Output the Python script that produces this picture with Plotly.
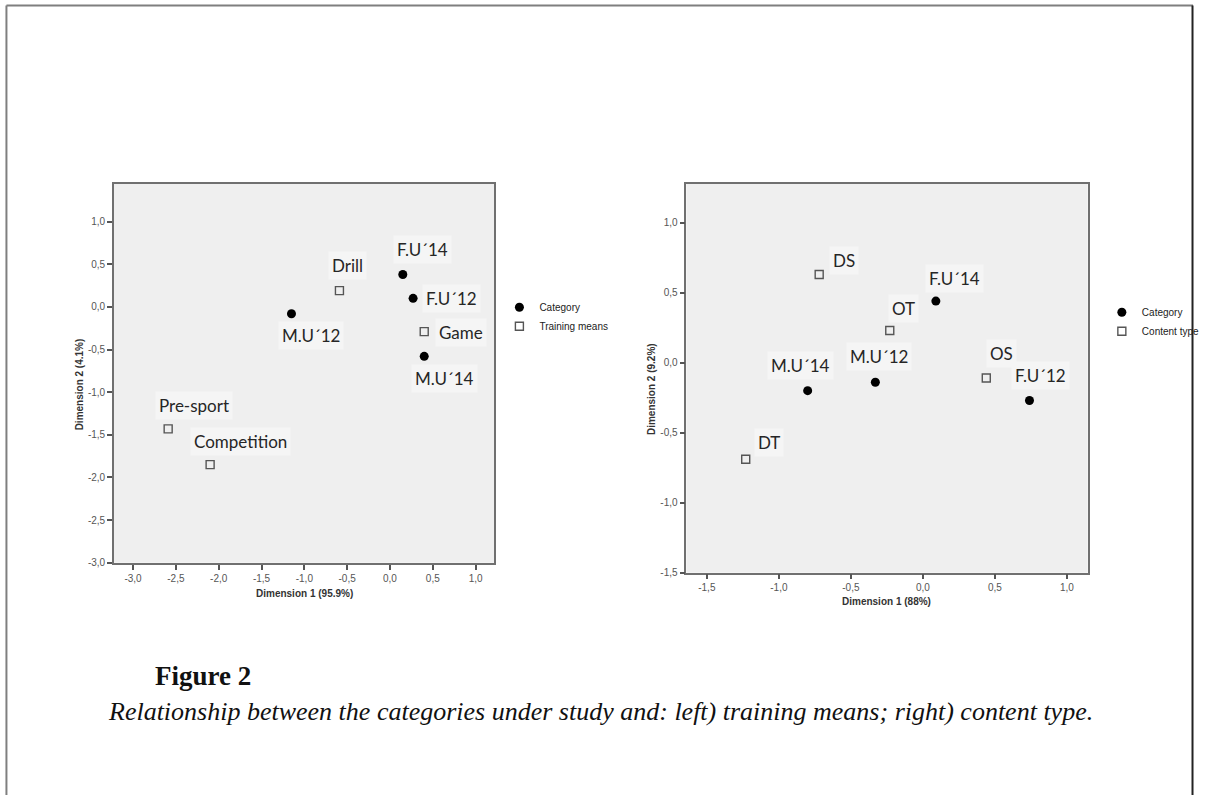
import plotly.graph_objects as go

W, H = 1205, 801

# ---------------- data ----------------
# Left panel: categories vs training means
left_cat_labels = ["M.U´12", "F.U´14", "F.U´12", "M.U´14"]
left_cat_x = [-1.15, 0.15, 0.27, 0.40]
left_cat_y = [-0.08, 0.38, 0.10, -0.58]

left_means_labels = ["Drill", "Game", "Pre-sport", "Competition"]
left_means_x = [-0.59, 0.40, -2.59, -2.10]
left_means_y = [0.19, -0.29, -1.43, -1.85]

# Right panel: categories vs content type
right_cat_labels = ["F.U´14", "M.U´14", "M.U´12", "F.U´12"]
right_cat_x = [0.09, -0.80, -0.33, 0.74]
right_cat_y = [0.44, -0.20, -0.14, -0.27]

right_cont_labels = ["DS", "OT", "OS", "DT"]
right_cont_x = [-0.72, -0.23, 0.44, -1.23]
right_cont_y = [0.63, 0.23, -0.11, -0.69]

left_x_ticks = [-3.0, -2.5, -2.0, -1.5, -1.0, -0.5, 0.0, 0.5, 1.0]
left_x_ticktext = ["-3,0", "-2,5", "-2,0", "-1,5", "-1,0", "-0,5", "0,0", "0,5", "1,0"]
left_y_ticks = [-3.0, -2.5, -2.0, -1.5, -1.0, -0.5, 0.0, 0.5, 1.0]
left_y_ticktext = ["-3,0", "-2,5", "-2,0", "-1,5", "-1,0", "-0,5", "0,0", "0,5", "1,0"]
right_x_ticks = [-1.5, -1.0, -0.5, 0.0, 0.5, 1.0]
right_x_ticktext = ["-1,5", "-1,0", "-0,5", "0,0", "0,5", "1,0"]
right_y_ticks = [-1.5, -1.0, -0.5, 0.0, 0.5, 1.0]
right_y_ticktext = ["-1,5", "-1,0", "-0,5", "0,0", "0,5", "1,0"]

# ---------------- label placement (pixels, dx right / dy down) ----------------
left_offsets = {
    "M.U´12": (20, 22, "center"), "F.U´14": (20, -25, "center"),
    "F.U´12": (9, 0, "left"), "M.U´14": (20, 22, "center"),
    "Drill": (8, -25, "center"), "Game": (11, 1, "left"),
    "Pre-sport": (26, -23, "center"), "Competition": (30, -23, "center"),
}
right_offsets = {
    "F.U´14": (19, -23, "center"), "M.U´14": (-7, -25, "center"),
    "M.U´12": (4, -26, "center"), "F.U´12": (11, -25, "center"),
    "DS": (25, -14, "center"), "OT": (14, -22, "center"),
    "OS": (15, -25, "center"), "DT": (23, -17, "center"),
}

def px(xp):
    return xp / W

def py(yp):
    return 1 - yp / H

PLOT_BG = "#efefef"
LABEL_FONT = dict(family="Lato", size=17, color="#262626")
TICK_FONT = dict(family="Liberation Sans", size=10, color="#555555")
TITLE_FONT = dict(family="Liberation Sans", size=10, color="#333333")

cat_marker = dict(symbol="circle", size=9, color="black")
sq_marker = dict(symbol="square-open", size=8, color="#555555", line=dict(width=1.4, color="#555555"))

fig = go.Figure()
fig.add_trace(go.Scatter(x=left_cat_x, y=left_cat_y, mode="markers", name="Category",
                         marker=cat_marker, xaxis="x", yaxis="y", legend="legend", hoverinfo="skip"))
fig.add_trace(go.Scatter(x=left_means_x, y=left_means_y, mode="markers", name="Training means",
                         marker=sq_marker, xaxis="x", yaxis="y", legend="legend", hoverinfo="skip"))
fig.add_trace(go.Scatter(x=right_cat_x, y=right_cat_y, mode="markers", name="Category",
                         marker=cat_marker, xaxis="x2", yaxis="y2", legend="legend2", hoverinfo="skip"))
fig.add_trace(go.Scatter(x=right_cont_x, y=right_cont_y, mode="markers", name="Content type",
                         marker=sq_marker, xaxis="x2", yaxis="y2", legend="legend2", hoverinfo="skip"))

annotations = []

def add_labels(labels, xs, ys, offsets, xref, yref):
    for lab, xv, yv in zip(labels, xs, ys):
        dx, dy, anchor = offsets[lab]
        annotations.append(dict(
            x=xv, y=yv, xref=xref, yref=yref, text=lab, showarrow=False,
            xanchor=anchor, yanchor="middle", xshift=dx, yshift=-dy,
            font=LABEL_FONT, bgcolor="#f5f5f5", borderpad=3))

add_labels(left_cat_labels, left_cat_x, left_cat_y, left_offsets, "x", "y")
add_labels(left_means_labels, left_means_x, left_means_y, left_offsets, "x", "y")
add_labels(right_cat_labels, right_cat_x, right_cat_y, right_offsets, "x2", "y2")
add_labels(right_cont_labels, right_cont_x, right_cont_y, right_offsets, "x2", "y2")

# axis titles
annotations += [
    dict(x=px(307), y=py(598), xref="paper", yref="paper", text="<b>Dimension 1 (95.9%)</b>",
         showarrow=False, font=TITLE_FONT, xanchor="center", yanchor="middle"),
    dict(x=px(80), y=py(387), xref="paper", yref="paper", text="<b>Dimension 2 (4.1%)</b>",
         showarrow=False, font=TITLE_FONT, textangle=-90, xanchor="center", yanchor="middle"),
    dict(x=px(895), y=py(606), xref="paper", yref="paper", text="<b>Dimension 1 (88%)</b>",
         showarrow=False, font=TITLE_FONT, xanchor="center", yanchor="middle"),
    dict(x=px(657), y=py(392), xref="paper", yref="paper", text="<b>Dimension 2 (9.2%)</b>",
         showarrow=False, font=TITLE_FONT, textangle=-90, xanchor="center", yanchor="middle"),
    # caption
    dict(x=px(154), y=py(681), xref="paper", yref="paper", text="<b>Figure 2</b>",
         showarrow=False, xanchor="left", yanchor="middle",
         font=dict(family="Liberation Serif", size=27, color="#111111")),
    dict(x=px(606), y=py(717), xref="paper", yref="paper",
         text="<i>Relationship between the categories under study and: left) training means; right) content type.</i>",
         showarrow=False, xanchor="center", yanchor="middle",
         font=dict(family="Liberation Serif", size=26, color="#111111")),
]

def axis(domain, rng, tv, tt, anchor):
    return dict(domain=domain, range=rng, tickvals=tv, ticktext=tt, ticks="outside", ticklen=5,
                tickwidth=1.5, tickcolor="#555555", showline=True, mirror=True,
                linecolor="#707070", linewidth=1.6, showgrid=False, zeroline=False,
                tickfont=TICK_FONT, anchor=anchor, fixedrange=True)

shapes = [
    dict(type="line", xref="paper", yref="paper", x0=px(6.5), x1=px(1204), y0=py(5.5), y1=py(5.5),
         line=dict(color="#7f7f7f", width=2)),
    dict(type="line", xref="paper", yref="paper", x0=px(6.5), x1=px(6.5), y0=py(5.5), y1=py(801),
         line=dict(color="#7f7f7f", width=2)),
    dict(type="line", xref="paper", yref="paper", x0=px(1203.5), x1=px(1203.5), y0=py(5.5), y1=py(801),
         line=dict(color="#222222", width=2)),
]

fig.update_layout(
    width=W, height=H, margin=dict(l=0, r=0, t=0, b=0),
    paper_bgcolor="white", plot_bgcolor=PLOT_BG,
    xaxis=axis([px(115), px(499)], [-3.223, 1.22], left_x_ticks, left_x_ticktext, "y"),
    yaxis=axis([py(567), py(185)], [-3.0, 1.445], left_y_ticks, left_y_ticktext, "x"),
    xaxis2=axis([px(692.7), px(1097.7)], [-1.642, 1.144], right_x_ticks, right_x_ticktext, "y2"),
    yaxis2=axis([py(577), py(185)], [-1.5, 1.279], right_y_ticks, right_y_ticktext, "x2"),
    legend=dict(x=px(504), y=py(295), xanchor="left", yanchor="top", bgcolor="rgba(0,0,0,0)",
                font=dict(family="Liberation Sans", size=10, color="#222222"), tracegroupgap=0,
                itemclick=False, itemdoubleclick=False),
    legend2=dict(x=px(1112), y=py(300), xanchor="left", yanchor="top", bgcolor="rgba(0,0,0,0)",
                 font=dict(family="Liberation Sans", size=10, color="#222222"), tracegroupgap=0,
                 itemclick=False, itemdoubleclick=False),
    showlegend=True,
    annotations=annotations,
    shapes=shapes,
)

fig.write_html("out.html", config={"displayModeBar": False},
               post_script="document.body.style.margin='0';document.body.style.padding='0';document.body.style.overflow='hidden';")
